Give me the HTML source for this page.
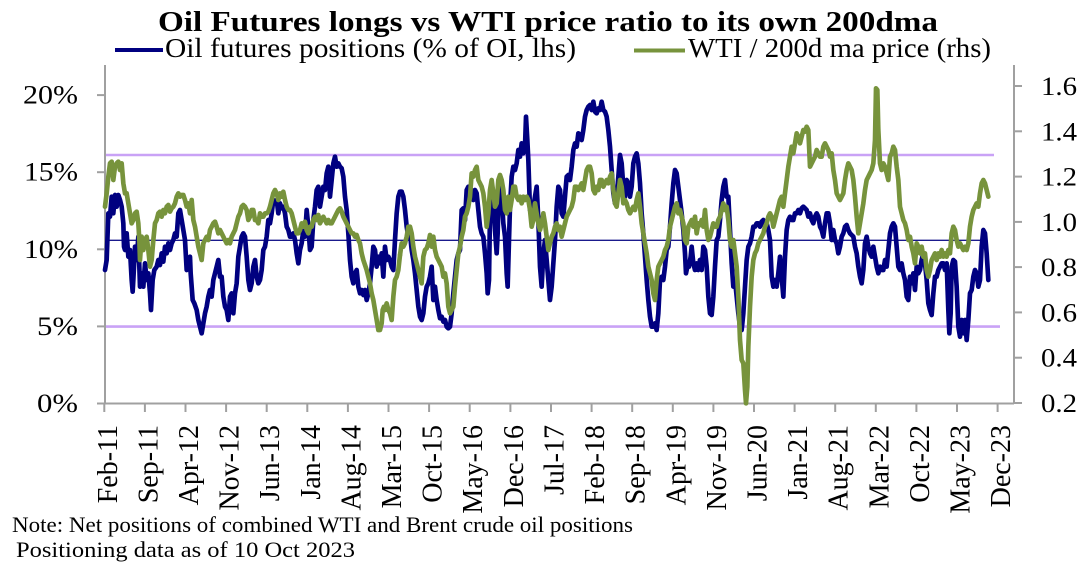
<!DOCTYPE html>
<html>
<head>
<meta charset="utf-8">
<style>
  html,body{margin:0;padding:0;background:#fff;}
  svg{display:block;}
  text{font-family:"Liberation Serif",serif;fill:#000;}
</style>
</head>
<body>
<svg width="1090" height="568" viewBox="0 0 1090 568" xmlns="http://www.w3.org/2000/svg">
<rect x="0" y="0" width="1090" height="568" fill="#fff"/>

<!-- Title -->
<text x="158" y="31" font-size="28" font-weight="bold" textLength="780" lengthAdjust="spacingAndGlyphs">Oil Futures longs vs WTI price ratio to its own 200dma</text>

<!-- Legend -->
<line x1="115" y1="50" x2="163" y2="50" stroke="#000080" stroke-width="4"/>
<text x="165" y="57" font-size="27" textLength="411" lengthAdjust="spacingAndGlyphs">Oil futures positions (% of OI, lhs)</text>
<line x1="634" y1="50.5" x2="685" y2="50.5" stroke="#77933C" stroke-width="4"/>
<text x="688" y="57" font-size="27" textLength="303" lengthAdjust="spacingAndGlyphs">WTI / 200d ma price (rhs)</text>

<!-- Reference lines -->
<line x1="105" y1="155" x2="994" y2="155" stroke="#C9A2F6" stroke-width="2.6"/>
<line x1="105" y1="326.6" x2="1000" y2="326.6" stroke="#C9A2F6" stroke-width="2.6"/>
<line x1="105" y1="240.3" x2="986" y2="240.3" stroke="#1A1A8C" stroke-width="1.3"/>

<!-- Axes -->
<g stroke="#A0A0A0" stroke-width="2" fill="none">
  <line x1="105" y1="65" x2="105" y2="404"/>
  <line x1="1014" y1="65" x2="1014" y2="404"/>
  <line x1="97" y1="403.5" x2="1014" y2="403.5"/>
  <line x1="97" y1="95.1" x2="105" y2="95.1"/>
  <line x1="97" y1="172.2" x2="105" y2="172.2"/>
  <line x1="97" y1="249.3" x2="105" y2="249.3"/>
  <line x1="97" y1="326.4" x2="105" y2="326.4"/>
  <line x1="1014" y1="86" x2="1022" y2="86"/>
  <line x1="1014" y1="131.3" x2="1022" y2="131.3"/>
  <line x1="1014" y1="176.6" x2="1022" y2="176.6"/>
  <line x1="1014" y1="221.9" x2="1022" y2="221.9"/>
  <line x1="1014" y1="267.1" x2="1022" y2="267.1"/>
  <line x1="1014" y1="312.4" x2="1022" y2="312.4"/>
  <line x1="1014" y1="357.7" x2="1022" y2="357.7"/>
  <line x1="1014" y1="403" x2="1022" y2="403"/>
  <line x1="104.3" y1="403.5" x2="104.3" y2="412"/>
  <line x1="144.9" y1="403.5" x2="144.9" y2="412"/>
  <line x1="185.5" y1="403.5" x2="185.5" y2="412"/>
  <line x1="226.1" y1="403.5" x2="226.1" y2="412"/>
  <line x1="266.7" y1="403.5" x2="266.7" y2="412"/>
  <line x1="307.3" y1="403.5" x2="307.3" y2="412"/>
  <line x1="347.9" y1="403.5" x2="347.9" y2="412"/>
  <line x1="388.5" y1="403.5" x2="388.5" y2="412"/>
  <line x1="429.1" y1="403.5" x2="429.1" y2="412"/>
  <line x1="469.7" y1="403.5" x2="469.7" y2="412"/>
  <line x1="510.4" y1="403.5" x2="510.4" y2="412"/>
  <line x1="551.0" y1="403.5" x2="551.0" y2="412"/>
  <line x1="591.6" y1="403.5" x2="591.6" y2="412"/>
  <line x1="632.2" y1="403.5" x2="632.2" y2="412"/>
  <line x1="672.8" y1="403.5" x2="672.8" y2="412"/>
  <line x1="713.4" y1="403.5" x2="713.4" y2="412"/>
  <line x1="754.0" y1="403.5" x2="754.0" y2="412"/>
  <line x1="794.6" y1="403.5" x2="794.6" y2="412"/>
  <line x1="835.2" y1="403.5" x2="835.2" y2="412"/>
  <line x1="875.8" y1="403.5" x2="875.8" y2="412"/>
  <line x1="916.4" y1="403.5" x2="916.4" y2="412"/>
  <line x1="957.0" y1="403.5" x2="957.0" y2="412"/>
  <line x1="997.6" y1="403.5" x2="997.6" y2="412"/>
</g>

<!-- Left axis labels -->
<g font-size="26" text-anchor="end">
  <text x="78" y="103.6" textLength="55" lengthAdjust="spacingAndGlyphs">20%</text>
  <text x="78" y="180.7" textLength="54" lengthAdjust="spacingAndGlyphs">15%</text>
  <text x="78" y="257.8" textLength="54" lengthAdjust="spacingAndGlyphs">10%</text>
  <text x="78" y="334.9" textLength="41" lengthAdjust="spacingAndGlyphs">5%</text>
  <text x="78" y="412" textLength="41" lengthAdjust="spacingAndGlyphs">0%</text>
</g>

<!-- Right axis labels -->
<g font-size="26">
  <text x="1041" y="95" textLength="36" lengthAdjust="spacingAndGlyphs">1.6</text>
  <text x="1041" y="140.3" textLength="36" lengthAdjust="spacingAndGlyphs">1.4</text>
  <text x="1041" y="185.6" textLength="36" lengthAdjust="spacingAndGlyphs">1.2</text>
  <text x="1041" y="230.9" textLength="36" lengthAdjust="spacingAndGlyphs">1.0</text>
  <text x="1041" y="276.1" textLength="36" lengthAdjust="spacingAndGlyphs">0.8</text>
  <text x="1041" y="321.4" textLength="36" lengthAdjust="spacingAndGlyphs">0.6</text>
  <text x="1041" y="366.7" textLength="36" lengthAdjust="spacingAndGlyphs">0.4</text>
  <text x="1041" y="412" textLength="36" lengthAdjust="spacingAndGlyphs">0.2</text>
</g>

<!-- X axis labels -->
<g font-size="28" text-anchor="end">
  <text transform="translate(116.8,425) rotate(-90)">Feb-11</text>
  <text transform="translate(157.4,425) rotate(-90)">Sep-11</text>
  <text transform="translate(198.0,425) rotate(-90)">Apr-12</text>
  <text transform="translate(238.6,425) rotate(-90)">Nov-12</text>
  <text transform="translate(279.2,425) rotate(-90)">Jun-13</text>
  <text transform="translate(319.8,425) rotate(-90)">Jan-14</text>
  <text transform="translate(360.4,425) rotate(-90)">Aug-14</text>
  <text transform="translate(401.0,425) rotate(-90)">Mar-15</text>
  <text transform="translate(441.6,425) rotate(-90)">Oct-15</text>
  <text transform="translate(482.2,425) rotate(-90)">May-16</text>
  <text transform="translate(522.9,425) rotate(-90)">Dec-16</text>
  <text transform="translate(563.5,425) rotate(-90)">Jul-17</text>
  <text transform="translate(604.1,425) rotate(-90)">Feb-18</text>
  <text transform="translate(644.7,425) rotate(-90)">Sep-18</text>
  <text transform="translate(685.3,425) rotate(-90)">Apr-19</text>
  <text transform="translate(725.9,425) rotate(-90)">Nov-19</text>
  <text transform="translate(766.5,425) rotate(-90)">Jun-20</text>
  <text transform="translate(807.1,425) rotate(-90)">Jan-21</text>
  <text transform="translate(847.7,425) rotate(-90)">Aug-21</text>
  <text transform="translate(888.3,425) rotate(-90)">Mar-22</text>
  <text transform="translate(928.9,425) rotate(-90)">Oct-22</text>
  <text transform="translate(969.5,425) rotate(-90)">May-23</text>
  <text transform="translate(1010.1,425) rotate(-90)">Dec-23</text>
</g>

<!-- Notes -->
<text x="12" y="532" font-size="22" textLength="621" lengthAdjust="spacingAndGlyphs">Note: Net positions of combined WTI and Brent crude oil positions</text>
<text x="16" y="557" font-size="22" textLength="339" lengthAdjust="spacingAndGlyphs">Positioning data as of 10 Oct 2023</text>

<!-- Series: blue (positions) -->
<g fill="none" stroke="#000080" stroke-width="14" stroke-linejoin="round" stroke-linecap="round">
  <path transform="translate(100,80) scale(0.33333)" d="M15,570 L20,540 25,400 30,410 35,350 40,400 45,345 50,380 55,345 60,360 65,380 70,430 72,500 75,510 80,460 85,530 90,510 95,600 98,635 100,600 105,500 110,540 115,470 120,620 125,580 130,620 135,550 140,600 145,580 150,640 153,690 158,600 163,570 170,560 175,540 180,555 185,520 190,545 195,500 200,520 205,490 210,510 215,490 220,480 225,460 230,470 235,400 240,390 245,420 250,450 255,480 260,570 265,540 270,530 272,580 278,660 283,670 290,690 295,720 300,740 305,760 310,730 315,700 320,680 325,650 330,630 335,650 340,600 345,580 350,560 355,540 360,590 365,590 370,650 375,680 380,690 385,720 390,650 395,640 400,700 405,640 410,610 415,530 420,500 425,470 430,460 435,470 440,530 445,600 450,630 455,610 460,560 465,540 470,590 475,610 480,600 485,570 490,510 495,500 500,470 505,420 510,430 515,400 520,360 525,370 530,360 535,400 540,370 545,385 550,380 555,400 560,440 565,450 570,470 575,470 580,460 585,480 590,520 595,550 600,510 605,490 610,450 615,470 620,390 625,440 630,510 635,500 640,420 645,380 650,330 655,320 660,380 665,350 670,320 675,330 680,280 685,260 690,350 695,300 700,250 705,230 710,260 715,250 720,260 725,265 730,290 735,350 740,390 745,460 750,540 755,590 760,610 765,580 770,570 775,620 780,640 785,630 790,645 795,630 800,660 805,640 810,610 815,560 820,500 825,510 830,560 835,530 840,550 845,520 850,590 855,500 860,540 865,530 870,540 875,560 880,570 885,480 890,400 895,350 900,335 905,335"/>
  <path transform="translate(400,80) scale(0.33333)" d="M0,335 L5,335 10,350 15,390 20,440 25,470 30,460 35,510 40,540 45,580 50,630 55,680 60,710 65,720 70,700 75,650 80,620 85,610 90,590 95,560 100,660 105,620 110,660 115,690 120,715 125,710 130,725 135,720 140,740 145,745 150,740 155,700 160,640 165,590 170,540 175,520 180,510 185,390 190,385 195,420 200,330 205,320 210,350 215,330 220,360 225,330 230,340 235,390 240,440 245,460 250,470 255,520 260,580 263,640 267,600 270,400 275,310 280,370 285,450 290,520 293,460 297,300 300,310 305,350 310,430 315,470 320,580 323,620 327,480 330,380 335,290 340,260 345,270 350,250 355,210 360,230 365,190 370,220 375,200 378,110 382,180 385,240 390,390 395,370 400,380 405,350 410,320 415,420 420,560 425,620 430,520 435,480 440,540 445,600 450,660 455,620 460,550 465,480 470,380 475,320 480,330 485,400 490,410 495,350 500,290 505,285 510,300 515,260 520,210 525,190 530,200 535,160 540,165 545,180 550,150 555,110 560,90 565,80 570,75 575,90 580,65 585,95 590,100 595,85 600,90 605,65 610,90 615,95 620,110 625,150 630,200 635,270 640,340 645,370 650,350 655,290 660,225 665,250 670,320 675,350 680,300 685,310 690,350 695,320 700,250 705,230 710,220 715,250 720,310 725,400 730,460 735,530 740,600 745,660 750,710 755,740 760,740 765,730 770,750 775,700 780,600 785,590 790,600 795,560 800,510 805,500 810,440 815,370 820,310 825,270 830,280 835,320 840,360 845,400 850,450 855,520 858,580 862,560 867,560 872,530 875,500 880,550 885,570 890,550 895,570 900,540"/>
  <path transform="translate(700,80) scale(0.33333)" d="M0,540 L5,570 10,500 15,510 20,560 25,650 30,700 35,705 40,650 45,560 50,480 55,470 60,420 65,360 70,320 75,300 80,350 85,350 90,450 95,550 100,620 105,600 110,650 115,700 120,740 125,750 130,700 135,620 140,540 145,500 150,490 155,470 160,440 165,440 170,430 175,430 180,440 185,425 190,420 195,440 200,430 205,450 210,480 215,590 220,620 225,600 230,620 235,580 240,530 245,590 250,650 255,530 260,450 265,420 270,410 275,420 280,420 285,400 290,400 295,390 300,400 305,385 310,380 315,385 320,390 325,410 330,400 335,420 340,430 345,410 350,400 355,410 360,440 365,450 370,470 375,430 380,400 385,400 390,430 395,480 400,450 405,480 410,490 415,520 420,500 425,470 430,460 435,440 440,435 445,450 450,460 455,465 460,470 465,500 470,520 475,560 480,590 485,610 490,570 495,490 500,470 505,500 510,520 515,530 520,500 525,530 530,560 535,580 540,560 545,570 550,570 555,540 560,560 565,510 570,460 575,440 580,430 585,440 590,500 595,560 600,570 605,550 610,580 615,600 620,650 625,660 630,590 635,610 640,580 645,630 650,560 655,580 660,570 665,540 670,520 675,550 680,600 685,670 690,690 695,705 700,640 705,590 710,590 715,570 720,560 725,550 730,550 735,570 740,550 745,690 748,760 752,700 755,560 760,540 765,545 770,620 775,740 780,770 785,720 790,760 795,720 800,780 805,720 810,640 815,630 820,590 825,570 830,580 835,620 840,600 845,500 850,450 855,460 860,520 865,600"/>
</g>

<!-- Series: green (WTI / 200dma) -->
<g fill="none" stroke="#77933C" stroke-width="14" stroke-linejoin="round" stroke-linecap="round">
  <path transform="translate(100,80) scale(0.33333)" d="M15,380 L20,340 25,290 30,250 35,245 40,300 45,260 50,250 55,245 60,270 65,250 70,310 75,340 80,340 85,370 90,400 95,430 100,420 105,400 110,395 115,430 118,480 120,540 125,470 130,510 135,480 140,470 145,510 150,560 155,540 160,480 165,430 170,420 175,400 180,395 185,410 190,390 195,400 200,380 205,375 210,395 215,385 220,380 225,370 230,350 235,340 240,350 245,345 250,345 255,360 260,380 265,370 270,400 275,360 280,420 285,440 290,470 295,500 300,520 305,540 310,490 315,480 320,470 325,480 330,450 335,440 340,430 345,425 350,440 355,460 360,450 365,460 370,470 375,480 380,490 385,480 390,490 395,470 400,460 405,450 410,430 415,410 420,400 425,380 430,375 435,380 440,390 445,420 450,410 455,390 460,390 465,420 470,420 475,430 480,400 485,410 490,410 495,400 500,400 505,395 510,380 515,360 520,340 525,330 530,340 535,360 540,340 545,350 550,335 555,360 560,380 565,390 570,390 575,400 580,420 585,440 590,460 595,460 600,450 605,430 610,440 615,425 620,450 625,460 630,440 635,440 640,420 645,410 650,420 655,405 660,430 665,420 670,410 675,420 680,430 685,420 690,430 695,430 700,420 705,410 710,400 715,390 720,385 725,395 730,410 735,420 740,430 745,440 750,450 755,460 760,460 765,470 770,465 775,480 780,490 785,520 790,540 795,555 800,570 805,590 810,610 815,640 820,660 825,690 830,720 835,750 840,750 845,730 848,690 852,680 855,690 860,670 865,690 870,700 875,720 880,650 885,600 890,590 895,570 900,525"/>
  <path transform="translate(400,80) scale(0.33333)" d="M0,525 L5,490 10,500 15,490 20,470 25,440 30,440 35,460 40,500 45,530 50,550 55,570 60,590 65,610 70,530 75,510 80,505 85,490 90,465 95,500 100,470 105,510 110,530 115,540 120,550 125,560 130,590 135,580 140,610 145,680 150,700 155,690 160,680 165,620 170,570 175,520 180,500 185,470 190,450 195,410 200,400 205,380 210,350 215,280 220,290 225,270 230,260 235,300 240,310 245,320 250,340 255,380 260,440 265,400 270,330 275,300 280,340 285,380 290,370 295,300 300,285 305,300 310,330 315,390 320,400 325,350 330,390 335,360 340,320 345,320 350,350 355,360 360,350 365,370 370,350 375,360 380,350 385,360 390,390 395,440 400,420 405,370 410,400 415,430 420,450 425,430 430,400 435,430 440,470 445,510 450,490 455,470 460,460 465,440 470,430 475,450 480,440 485,470 490,450 495,430 500,410 505,400 510,390 515,380 520,360 525,320 530,320 535,330 540,320 545,310 550,330 555,300 560,270 565,260 570,260 575,280 580,330 585,340 590,320 595,330 600,300 605,300 610,320 615,310 620,300 625,310 630,290 635,280 640,330 645,370 650,380 655,340 660,300 665,320 670,370 675,360 680,370 685,390 690,400 695,390 700,380 705,390 710,360 715,340 720,380 725,430 730,460 735,490 740,520 745,560 750,580 755,600 760,640 765,660 770,600 775,560 780,550 785,540 790,530 795,510 800,500 805,480 810,440 815,420 820,400 825,380 830,370 835,400 840,390 845,410 850,430 855,480 860,490 865,440 870,430 875,420 880,440 885,410 890,460 895,430 900,435"/>
  <path transform="translate(700,80) scale(0.33333)" d="M0,435 L5,420 10,440 15,390 20,450 25,480 30,470 35,450 40,430 45,440 50,440 55,420 60,410 65,390 70,370 75,390 80,380 85,420 90,480 95,500 100,480 105,520 110,560 115,650 120,780 125,840 130,850 135,930 138,970 142,920 145,800 150,680 155,590 160,540 165,520 170,510 175,490 180,480 185,470 190,460 195,440 200,430 205,410 210,400 215,410 220,440 225,420 230,400 235,380 240,360 245,350 250,380 255,340 260,300 265,260 270,230 275,200 280,220 285,190 290,160 295,170 300,190 305,170 310,150 315,155 320,140 325,150 330,260 335,250 340,240 345,230 350,210 355,220 360,230 365,230 370,200 375,190 380,200 385,210 390,230 395,220 400,270 405,300 410,340 415,350 420,360 425,350 430,340 435,300 440,270 445,250 450,260 455,270 460,300 465,350 470,410 475,460 480,430 485,400 490,370 495,330 500,300 505,290 510,280 515,270 520,250 525,180 528,25 532,30 535,150 540,250 545,270 550,250 555,260 560,280 565,300 570,230 575,220 580,200 585,210 590,260 595,300 600,380 605,400 610,420 615,430 620,450 625,480 630,470 635,500 640,520 645,550 650,490 655,500 660,520 665,500 670,530 675,520 680,570 685,590 690,570 695,540 700,530 705,520 710,540 715,520 720,530 725,510 730,530 735,520 740,530 745,510 750,520 755,460 760,440 765,450 770,480 775,500 780,490 785,500 790,510 795,500 800,510 805,490 810,440 815,410 820,390 825,380 830,370 835,380 840,340 845,310 850,300 855,310 860,330 865,350"/>
</g>
</svg>
</body>
</html>
